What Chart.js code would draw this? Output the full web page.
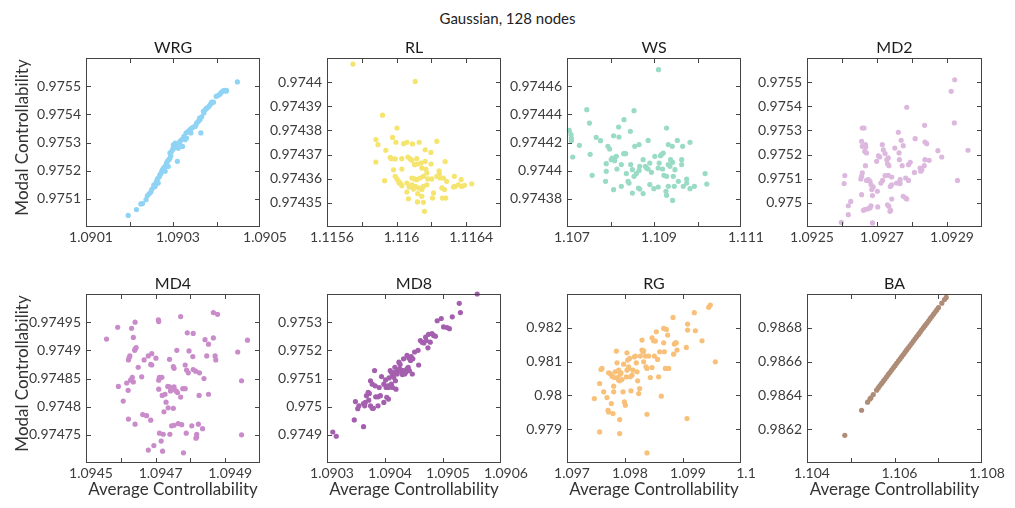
<!DOCTYPE html>
<html>
<head>
<meta charset="utf-8">
<script src="https://cdn.jsdelivr.net/npm/chart.js@4.4.1/dist/chart.umd.min.js"></script>
<style>
  html, body { margin: 0; padding: 0; background: #fff; }
  body { width: 1015px; height: 508px; position: relative; overflow: hidden; font-family: Lato, sans-serif; }
  canvas { position: absolute; }
  #suptitle { position: absolute; left: 0; width: 1015px; top: 9px; text-align: center; font: 15px Lato, sans-serif; color: #222; }
</style>
</head>
<body>
<div id="suptitle">Gaussian, 128 nodes</div>
<script>
// ---- data: average controllability (x) vs modal controllability (y) ----
const wrgX = [1.090197,1.090216,1.090226,1.090230,1.090238,1.090241,1.090245,1.090249,1.090251,1.090255,1.090256,1.090261,1.090262,1.090264,1.090266,1.090269,1.090270,1.090272,1.090274,1.090276,1.090278,1.090279,1.090282,1.090284,1.090285,1.090287,1.090289,1.090292,1.090293,1.090293,1.090295,1.090297,1.090299,1.090301,1.090301,1.090302,1.090305,1.090307,1.090308,1.090310,1.090312,1.090315,1.090316,1.090320,1.090322,1.090325,1.090328,1.090330,1.090331,1.090335,1.090339,1.090341,1.090343,1.090347,1.090351,1.090353,1.090354,1.090358,1.090361,1.090362,1.090364,1.090366,1.090370,1.090371,1.090374,1.090376,1.090377,1.090381,1.090384,1.090387,1.090389,1.090393,1.090399,1.090402,1.090407,1.090410,1.090414,1.090417,1.090422,1.090423,1.090448,1.090266,1.090259,1.090282,1.090289];
const wrgY = [0.975041,0.975062,0.975082,0.975083,0.975097,0.975111,0.975118,0.975124,0.975133,0.975141,0.975150,0.975154,0.975162,0.975170,0.975174,0.975180,0.975186,0.975189,0.975198,0.975204,0.975209,0.975206,0.975215,0.975221,0.975227,0.975233,0.975237,0.975241,0.975245,0.975263,0.975253,0.975269,0.975275,0.975286,0.975292,0.975280,0.975298,0.975292,0.975286,0.975233,0.975280,0.975298,0.975304,0.975310,0.975286,0.975322,0.975310,0.975334,0.975316,0.975340,0.975346,0.975334,0.975351,0.975355,0.975357,0.975363,0.975369,0.975375,0.975387,0.975381,0.975334,0.975391,0.975411,0.975405,0.975417,0.975419,0.975422,0.975426,0.975431,0.975438,0.975443,0.975443,0.975464,0.975466,0.975470,0.975476,0.975482,0.975485,0.975482,0.975485,0.975515,0.975156,0.975144,0.975198,0.975215];

const rlX = [1.115749,1.116107,1.115919,1.116002,1.115977,1.115881,1.115893,1.115996,1.116040,1.116059,1.116091,1.116130,1.116231,1.115938,1.115963,1.115969,1.115992,1.116030,1.116065,1.116078,1.116088,1.116116,1.116164,1.116197,1.115881,1.116141,1.116164,1.116198,1.116279,1.115982,1.116030,1.116103,1.116120,1.116145,1.116168,1.116244,1.116246,1.115931,1.115992,1.116002,1.116011,1.116021,1.116059,1.116088,1.116103,1.116116,1.116135,1.116154,1.116174,1.116179,1.116202,1.116231,1.116250,1.116269,1.116288,1.116332,1.116371,1.116355,1.116374,1.116390,1.116432,1.116327,1.116336,1.116260,1.116275,1.116283,1.116263,1.116212,1.116206,1.116174,1.116154,1.116145,1.116126,1.116107,1.116088,1.116072,1.116059,1.116068,1.116097,1.116122,1.116145,1.116120,1.116154,1.116160,1.116030,1.116015];
const rlY = [0.9744075,0.9744003,0.9743863,0.9743810,0.9743771,0.9743762,0.9743741,0.9743751,0.9743745,0.9743751,0.9743744,0.9743751,0.9743755,0.9743718,0.9743689,0.9743683,0.9743682,0.9743683,0.9743690,0.9743682,0.9743676,0.9743683,0.9743720,0.9743709,0.9743669,0.9743665,0.9743672,0.9743661,0.9743671,0.9743637,0.9743640,0.9743658,0.9743661,0.9743644,0.9743640,0.9743633,0.9743621,0.9743592,0.9743610,0.9743599,0.9743589,0.9743582,0.9743582,0.9743603,0.9743599,0.9743596,0.9743603,0.9743610,0.9743624,0.9743599,0.9743599,0.9743610,0.9743603,0.9743603,0.9743589,0.9743610,0.9743596,0.9743575,0.9743568,0.9743573,0.9743579,0.9743566,0.9743568,0.9743562,0.9743555,0.9743520,0.9743520,0.9743541,0.9743520,0.9743575,0.9743568,0.9743555,0.9743562,0.9743568,0.9743575,0.9743566,0.9743545,0.9743517,0.9743557,0.9743538,0.9743527,0.9743504,0.9743502,0.9743465,0.9743571,0.9743582];

const wsX = [1.109104,1.107455,1.108541,1.107516,1.107054,1.107092,1.107100,1.107100,1.107285,1.107671,1.107771,1.108071,1.108187,1.108310,1.108195,1.108457,1.108303,1.108349,1.108557,1.108657,1.108865,1.109289,1.109328,1.109420,1.109536,1.109659,1.109828,1.107131,1.107532,1.107940,1.107979,1.107902,1.108017,1.108040,1.108094,1.108133,1.108148,1.108249,1.108364,1.108464,1.108503,1.108541,1.108595,1.108657,1.108672,1.108750,1.108803,1.108827,1.108865,1.108904,1.108942,1.109019,1.109096,1.109119,1.109150,1.109173,1.109212,1.109197,1.109227,1.109289,1.109328,1.109366,1.109381,1.109428,1.109482,1.109443,1.109636,1.109636,1.109751,1.107578,1.107902,1.107886,1.108071,1.108249,1.108403,1.108426,1.108503,1.108642,1.108672,1.108750,1.108904,1.108996,1.109096,1.109274,1.109289,1.109328,1.109428,1.109466,1.109559,1.109674,1.109828,1.109929,1.109751,1.110175,1.110214];
const wsY = [0.9744717,0.9744433,0.9744426,0.9744338,0.9744286,0.9744256,0.9744232,0.9744213,0.9744180,0.9744237,0.9744213,0.9744248,0.9744310,0.9744362,0.9744239,0.9744279,0.9744121,0.9744121,0.9744173,0.9744185,0.9744215,0.9744303,0.9744185,0.9744173,0.9744215,0.9744173,0.9744201,0.9744097,0.9744116,0.9744173,0.9744154,0.9744050,0.9744078,0.9744090,0.9744071,0.9744102,0.9744012,0.9744043,0.9743979,0.9744043,0.9744007,0.9743960,0.9743979,0.9744002,0.9744031,0.9744078,0.9744031,0.9744019,0.9744012,0.9744054,0.9743988,0.9744102,0.9744019,0.9744054,0.9744106,0.9744114,0.9744125,0.9744012,0.9743967,0.9743960,0.9744043,0.9744031,0.9744078,0.9744059,0.9744007,0.9743960,0.9744043,0.9744078,0.9743912,0.9743967,0.9743995,0.9743924,0.9743865,0.9743889,0.9743924,0.9743912,0.9743841,0.9743877,0.9743870,0.9743837,0.9743901,0.9743872,0.9743884,0.9743853,0.9743825,0.9743889,0.9743789,0.9743889,0.9743924,0.9743889,0.9743872,0.9743889,0.9743941,0.9743979,0.9743905];

const md2X = [1.092922,1.092912,1.092785,1.092921,1.092836,1.092658,1.092663,1.092761,1.092656,1.092658,1.092667,1.092668,1.092665,1.092670,1.092715,1.092769,1.092775,1.092751,1.092809,1.092837,1.092842,1.092874,1.092885,1.092960,1.092718,1.092723,1.092704,1.092708,1.092699,1.092728,1.092732,1.092730,1.092734,1.092763,1.092764,1.092772,1.092790,1.092795,1.092837,1.092849,1.092835,1.092828,1.092825,1.092823,1.092807,1.092667,1.092658,1.092656,1.092654,1.092670,1.092675,1.092680,1.092683,1.092685,1.092687,1.092689,1.092701,1.092711,1.092716,1.092723,1.092732,1.092742,1.092738,1.092742,1.092756,1.092766,1.092782,1.092790,1.092766,1.092608,1.092606,1.092656,1.092625,1.092618,1.092618,1.092598,1.092687,1.092661,1.092665,1.092673,1.092680,1.092683,1.092702,1.092730,1.092734,1.092739,1.092737,1.092742,1.092775,1.092782,1.092785,1.092930];
const md2Y = [0.975510,0.975462,0.975396,0.975331,0.975321,0.975310,0.975310,0.975292,0.975255,0.975234,0.975241,0.975231,0.975213,0.975207,0.975241,0.975259,0.975237,0.975227,0.975266,0.975252,0.975245,0.975216,0.975190,0.975218,0.975220,0.975204,0.975195,0.975190,0.975172,0.975179,0.975186,0.975162,0.975154,0.975207,0.975179,0.975154,0.975158,0.975168,0.975179,0.975176,0.975154,0.975137,0.975131,0.975144,0.975126,0.975154,0.975124,0.975110,0.975099,0.975093,0.975096,0.975089,0.975075,0.975055,0.975030,0.975066,0.975048,0.975082,0.975093,0.975113,0.975114,0.975107,0.975068,0.975075,0.975082,0.975080,0.975103,0.975093,0.975096,0.975113,0.975080,0.975034,0.975006,0.974988,0.974951,0.974919,0.974917,0.974969,0.974972,0.974975,0.974979,0.974988,0.974983,0.974992,0.974986,0.974969,0.974965,0.975016,0.975027,0.975020,0.975016,0.975093];

const md4X = [1.094559,1.094591,1.094641,1.094631,1.094636,1.094641,1.094644,1.094640,1.094622,1.094624,1.094626,1.094650,1.094633,1.094660,1.094667,1.094679,1.094689,1.094689,1.094686,1.094701,1.094708,1.094709,1.094740,1.094761,1.094751,1.094753,1.094772,1.094791,1.094808,1.094796,1.094807,1.094785,1.094789,1.094794,1.094808,1.094815,1.094826,1.094839,1.094842,1.094852,1.094866,1.094847,1.094871,1.094873,1.094866,1.094878,1.094936,1.094964,1.094947,1.094593,1.094617,1.094628,1.094636,1.094621,1.094607,1.094709,1.094711,1.094718,1.094709,1.094719,1.094727,1.094735,1.094740,1.094743,1.094749,1.094753,1.094759,1.094763,1.094772,1.094778,1.094785,1.094730,1.094724,1.094736,1.094751,1.094622,1.094641,1.094663,1.094674,1.094686,1.094711,1.094722,1.094741,1.094746,1.094753,1.094765,1.094775,1.094788,1.094804,1.094818,1.094823,1.094835,1.094816,1.094818,1.094947,1.094679,1.094695,1.094716,1.094720,1.094780,1.094825,1.094852];
const md4Y = [0.974920,0.974941,0.974950,0.974939,0.974923,0.974902,0.974905,0.974900,0.974883,0.974887,0.974890,0.974870,0.974852,0.974853,0.974883,0.974890,0.974894,0.974874,0.974875,0.974886,0.974954,0.974951,0.974884,0.974900,0.974871,0.974868,0.974960,0.974931,0.974930,0.974899,0.974889,0.974874,0.974865,0.974860,0.974866,0.974863,0.974860,0.974850,0.974919,0.974911,0.974922,0.974890,0.974890,0.974883,0.974967,0.974964,0.974897,0.974918,0.974846,0.974836,0.974842,0.974847,0.974844,0.974829,0.974810,0.974847,0.974852,0.974852,0.974831,0.974820,0.974822,0.974836,0.974835,0.974828,0.974831,0.974835,0.974828,0.974825,0.974817,0.974832,0.974832,0.974808,0.974791,0.974798,0.974797,0.974778,0.974769,0.974786,0.974784,0.974776,0.974753,0.974751,0.974751,0.974766,0.974767,0.974770,0.974768,0.974753,0.974766,0.974751,0.974769,0.974761,0.974744,0.974746,0.974750,0.974723,0.974731,0.974739,0.974721,0.974718,0.974820,0.974822];

const md8X = [1.090310,1.090316,1.090347,1.090363,1.090353,1.090349,1.090355,1.090363,1.090365,1.090366,1.090375,1.090378,1.090380,1.090372,1.090368,1.090371,1.090373,1.090375,1.090378,1.090382,1.090383,1.090384,1.090388,1.090390,1.090392,1.090394,1.090398,1.090401,1.090402,1.090403,1.090405,1.090406,1.090407,1.090409,1.090411,1.090411,1.090413,1.090415,1.090417,1.090417,1.090418,1.090421,1.090422,1.090425,1.090426,1.090428,1.090429,1.090430,1.090432,1.090434,1.090436,1.090438,1.090440,1.090442,1.090444,1.090445,1.090448,1.090451,1.090457,1.090458,1.090461,1.090464,1.090467,1.090470,1.090471,1.090474,1.090475,1.090478,1.090481,1.090484,1.090487,1.090490,1.090497,1.090501,1.090507,1.090511,1.090516,1.090528,1.090530,1.090559,1.090406,1.090398,1.090388,1.090424,1.090432,1.090438,1.090441,1.090447,1.090413,1.090419];
const md8Y = [0.974910,0.974895,0.974953,0.974929,0.974993,0.975018,0.975003,0.975011,0.975003,0.975015,0.975003,0.974994,0.974994,0.975023,0.975039,0.975051,0.975047,0.975092,0.975080,0.975128,0.975074,0.975035,0.975035,0.975068,0.975039,0.975107,0.975080,0.975095,0.975068,0.975033,0.975074,0.975068,0.975102,0.975128,0.975080,0.975122,0.975110,0.975104,0.975140,0.975122,0.975092,0.975116,0.975128,0.975134,0.975150,0.975130,0.975122,0.975114,0.975128,0.975116,0.975122,0.975134,0.975140,0.975128,0.975164,0.975178,0.975170,0.975194,0.975200,0.975148,0.975235,0.975229,0.975226,0.975247,0.975235,0.975209,0.975257,0.975229,0.975259,0.975253,0.975250,0.975305,0.975313,0.975283,0.975281,0.975277,0.975319,0.975367,0.975334,0.975400,0.975027,0.975015,0.975003,0.975158,0.975170,0.975182,0.975173,0.975116,0.975068,0.975062];

const rgX = [1.097471,1.097563,1.097563,1.097586,1.097603,1.097632,1.097690,1.097707,1.097718,1.097718,1.097747,1.097764,1.097776,1.097793,1.097805,1.097805,1.097816,1.097833,1.097851,1.097862,1.097874,1.097891,1.097891,1.097908,1.097908,1.097908,1.097920,1.097931,1.097948,1.097966,1.097977,1.097989,1.098006,1.098023,1.098034,1.098034,1.098046,1.098063,1.098063,1.098080,1.098092,1.098103,1.098121,1.098138,1.098161,1.098178,1.098195,1.098207,1.098218,1.098236,1.098253,1.098264,1.098293,1.098293,1.098310,1.098322,1.098322,1.098351,1.098362,1.098379,1.098379,1.098379,1.098408,1.098437,1.098466,1.098466,1.098494,1.098506,1.098523,1.098540,1.098563,1.098580,1.098598,1.098626,1.098667,1.098667,1.098678,1.098695,1.098713,1.098736,1.098753,1.098828,1.098839,1.098851,1.098868,1.098885,1.098897,1.099057,1.099069,1.099080,1.099080,1.099195,1.099213,1.099328,1.099443,1.099471,1.099557];
const rgY = [0.979907,0.978919,0.980352,0.980767,0.980797,0.980105,0.979937,0.979561,0.979512,0.980668,0.980648,0.979759,0.980569,0.979463,0.980105,0.980273,0.980530,0.980698,0.981310,0.980965,0.980530,0.980451,0.980747,0.980431,0.979285,0.978870,0.980629,0.980668,0.980471,0.980105,0.980925,0.979808,0.979710,0.980550,0.980747,0.981261,0.981044,0.980797,0.980846,0.981093,0.980550,0.980135,0.980599,0.980747,0.981142,0.981162,0.980965,0.980698,0.980431,0.980055,0.980204,0.981162,0.981636,0.981340,0.981291,0.981320,0.980994,0.981162,0.980846,0.978297,0.979443,0.980797,0.981162,0.980530,0.980826,0.981706,0.981617,0.981162,0.981607,0.981883,0.981063,0.980550,0.981291,0.979976,0.981557,0.981982,0.981291,0.980797,0.981953,0.981785,0.980797,0.982308,0.981221,0.981518,0.981557,0.981557,0.981340,0.981419,0.979314,0.982111,0.981933,0.982447,0.981913,0.981617,0.982605,0.982674,0.980994];

const baX = [1.104864,1.105247,1.105384,1.105438,1.105461,1.105514,1.105591,1.105629,1.105667,1.105706,1.105744,1.105782,1.105820,1.105858,1.105897,1.105935,1.105973,1.106011,1.106050,1.106088,1.106126,1.106164,1.106203,1.106241,1.106279,1.106317,1.106356,1.106394,1.106432,1.106470,1.106508,1.106547,1.106585,1.106623,1.106661,1.106700,1.106738,1.106776,1.106814,1.106853,1.106891,1.106929,1.106967,1.107006,1.107082,1.107143,1.107182];
const baY = [0.986164,0.986312,0.986360,0.986378,0.986386,0.986405,0.986431,0.986444,0.986458,0.986471,0.986484,0.986497,0.986510,0.986524,0.986537,0.986550,0.986563,0.986576,0.986590,0.986603,0.986616,0.986629,0.986642,0.986656,0.986669,0.986682,0.986695,0.986708,0.986722,0.986735,0.986748,0.986761,0.986774,0.986788,0.986801,0.986814,0.986827,0.986840,0.986854,0.986867,0.986880,0.986893,0.986906,0.986920,0.986946,0.986967,0.986980];

// ---- axis ticks and labels ----
const wrgXTicks = [1.0901, 1.0902, 1.0903, 1.0904, 1.0905];
const wrgXLabels = ['1.0901', '', '1.0903', '', '1.0905'];
const wrgYRange = [0.975, 0.9756];
const wrgYTicks = [0.9751, 0.9752, 0.9753, 0.9754, 0.9755];
const wrgYLabels = ['0.9751', '0.9752', '0.9753', '0.9754', '0.9755'];

const rlXTicks = [1.1156, 1.1158, 1.116, 1.1162, 1.1164, 1.1166];
const rlXLabels = ['1.1156', '', '1.116', '', '1.1164', ''];
const rlYRange = [0.97434, 0.97441];
const rlYTicks = [0.97435, 0.97436, 0.97437, 0.97438, 0.97439, 0.9744];
const rlYLabels = ['0.97435', '0.97436', '0.97437', '0.97438', '0.97439', '0.9744'];

const wsXTicks = [1.107, 1.108, 1.109, 1.110, 1.111];
const wsXLabels = ['1.107', '', '1.109', '', '1.111'];
const wsYRange = [0.97436, 0.97448];
const wsYTicks = [0.97438, 0.9744, 0.97442, 0.97444, 0.97446];
const wsYLabels = ['0.97438', '0.9744', '0.97442', '0.97444', '0.97446'];

const md2XTicks = [1.0925, 1.0926, 1.0927, 1.0928, 1.0929, 1.093];
const md2XLabels = ['1.0925', '', '1.0927', '', '1.0929', ''];
const md2YRange = [0.9749, 0.9756];
const md2YTicks = [0.975, 0.9751, 0.9752, 0.9753, 0.9754, 0.9755];
const md2YLabels = ['0.975', '0.9751', '0.9752', '0.9753', '0.9754', '0.9755'];

const md4XTicks = [1.0945, 1.0946, 1.0947, 1.0948, 1.0949, 1.095];
const md4XLabels = ['1.0945', '', '1.0947', '', '1.0949', ''];
const md4YRange = [0.9747, 0.975];
const md4YTicks = [0.97475, 0.9748, 0.97485, 0.9749, 0.97495];
const md4YLabels = ['0.97475', '0.9748', '0.97485', '0.9749', '0.97495'];

const md8XTicks = [1.0903, 1.0904, 1.0905, 1.0906];
const md8XLabels = ['1.0903', '1.0904', '1.0905', '1.0906'];
const md8YRange = [0.9748, 0.9754];
const md8YTicks = [0.9749, 0.975, 0.9751, 0.9752, 0.9753];
const md8YLabels = ['0.9749', '0.975', '0.9751', '0.9752', '0.9753'];

const rgXTicks = [1.097, 1.098, 1.099, 1.1];
const rgXLabels = ['1.097', '1.098', '1.099', '1.1'];
const rgYRange = [0.978, 0.983];
const rgYTicks = [0.979, 0.98, 0.981, 0.982];
const rgYLabels = ['0.979', '0.98', '0.981', '0.982'];

const baXTicks = [1.104, 1.105, 1.106, 1.107, 1.108];
const baXLabels = ['1.104', '', '1.106', '', '1.108'];
const baYRange = [0.986, 0.987];
const baYTicks = [0.9862, 0.9864, 0.9866, 0.9868];
const baYLabels = ['0.9862', '0.9864', '0.9866', '0.9868'];

// ---- panel layout (plot box in page pixels) ----
const colLeft = [86, 327, 567, 807];
const rowTop = [58, 294];
const boxW = 174, boxH = 169;
const padL = 86, padT = 45, padR = 30, padB = 45;

const panels = [
  { name: 'WRG', xs: wrgX, ys: wrgY, color: '#8fd3f5', xTicks: wrgXTicks, xLabels: wrgXLabels, yRange: wrgYRange, yTicks: wrgYTicks, yLabels: wrgYLabels, col: 0, row: 0 },
  { name: 'RL',  xs: rlX,  ys: rlY,  color: '#f5e46e', xTicks: rlXTicks,  xLabels: rlXLabels,  yRange: rlYRange,  yTicks: rlYTicks,  yLabels: rlYLabels,  col: 1, row: 0 },
  { name: 'WS',  xs: wsX,  ys: wsY,  color: '#99dbc4', xTicks: wsXTicks,  xLabels: wsXLabels,  yRange: wsYRange,  yTicks: wsYTicks,  yLabels: wsYLabels,  col: 2, row: 0 },
  { name: 'MD2', xs: md2X, ys: md2Y, color: '#ddb8de', xTicks: md2XTicks, xLabels: md2XLabels, yRange: md2YRange, yTicks: md2YTicks, yLabels: md2YLabels, col: 3, row: 0 },
  { name: 'MD4', xs: md4X, ys: md4Y, color: '#c98bc9', xTicks: md4XTicks, xLabels: md4XLabels, yRange: md4YRange, yTicks: md4YTicks, yLabels: md4YLabels, col: 0, row: 1 },
  { name: 'MD8', xs: md8X, ys: md8Y, color: '#a45fae', xTicks: md8XTicks, xLabels: md8XLabels, yRange: md8YRange, yTicks: md8YTicks, yLabels: md8YLabels, col: 1, row: 1 },
  { name: 'RG',  xs: rgX,  ys: rgY,  color: '#f8c078', xTicks: rgXTicks,  xLabels: rgXLabels,  yRange: rgYRange,  yTicks: rgYTicks,  yLabels: rgYLabels,  col: 2, row: 1 },
  { name: 'BA',  xs: baX,  ys: baY,  color: '#ae8c77', xTicks: baXTicks,  xLabels: baXLabels,  yRange: baYRange,  yTicks: baYTicks,  yLabels: baYLabels,  col: 3, row: 1 }
];

const tickFont = { family: 'Lato', size: 14 };
const textColor = '#3c3c3c';

// box, inward tick marks on all four sides, and the panel / axis titles
function framePlugin(p) {
  return {
    id: 'frame',
    afterDraw(chart) {
      const { ctx, chartArea: a, scales } = chart;
      ctx.save();
      ctx.strokeStyle = '#444';
      ctx.lineWidth = 1;
      ctx.strokeRect(a.left + 0.5, a.top + 0.5, a.right - a.left - 1, a.bottom - a.top - 1);
      ctx.beginPath();
      p.xTicks.slice(1, -1).forEach(v => {
        const px = Math.round(scales.x.getPixelForValue(v)) + 0.5;
        ctx.moveTo(px, a.bottom); ctx.lineTo(px, a.bottom - 5);
        ctx.moveTo(px, a.top); ctx.lineTo(px, a.top + 5);
      });
      p.yTicks.forEach(v => {
        const py = Math.round(scales.y.getPixelForValue(v)) + 0.5;
        ctx.moveTo(a.left, py); ctx.lineTo(a.left + 5, py);
        ctx.moveTo(a.right, py); ctx.lineTo(a.right - 5, py);
      });
      ctx.stroke();

      const cx = (a.left + a.right) / 2;
      ctx.fillStyle = '#1c1c1c';
      ctx.textAlign = 'center';
      ctx.textBaseline = 'alphabetic';
      ctx.font = '16px Lato';
      ctx.fillText(p.name, cx, a.top - 5);

      ctx.fillStyle = '#333';
      ctx.font = '17px Lato';
      if (p.row === 1) {
        ctx.fillText('Average Controllability', cx, a.bottom + 32);
      }
      if (p.col === 0) {
        ctx.translate(a.left - 58, (a.top + a.bottom) / 2 - 5);
        ctx.rotate(-Math.PI / 2);
        ctx.fillText('Modal Controllability', 0, 0);
      }
      ctx.restore();
    }
  };
}

panels.forEach(p => {
  const w = p.col === 3 ? boxW + 1 : boxW;
  const canvas = document.createElement('canvas');
  canvas.width = w + padL + padR;
  canvas.height = boxH + padT + padB;
  canvas.style.left = (colLeft[p.col] - padL) + 'px';
  canvas.style.top = (rowTop[p.row] - padT) + 'px';
  document.body.appendChild(canvas);

  new Chart(canvas, {
    type: 'scatter',
    data: {
      datasets: [{
        data: p.xs.map((x, i) => ({ x: x, y: p.ys[i] })),
        backgroundColor: p.color,
        borderWidth: 0,
        pointRadius: 2.6,
        pointHoverRadius: 2.6,
        clip: false
      }]
    },
    options: {
      responsive: false,
      animation: false,
      devicePixelRatio: 1,
      events: [],
      layout: { padding: { left: 0, top: padT, right: padR, bottom: 0 } },
      plugins: { legend: { display: false }, tooltip: { enabled: false }, title: { display: false } },
      scales: {
        x: {
          type: 'linear',
          position: 'bottom',
          min: p.xTicks[0],
          max: p.xTicks[p.xTicks.length - 1],
          afterBuildTicks: s => { s.ticks = p.xTicks.map(v => ({ value: v })); },
          afterFit: s => { s.height = padB; },
          grid: { display: false, drawTicks: false },
          border: { display: false },
          ticks: {
            autoSkip: false, maxRotation: 0, padding: 2, labelOffset: 5,
            color: textColor, font: tickFont,
            callback: (v, i) => p.xLabels[i]
          }
        },
        y: {
          type: 'linear',
          position: 'left',
          min: p.yRange[0],
          max: p.yRange[1],
          afterBuildTicks: s => { s.ticks = p.yTicks.map(v => ({ value: v })); },
          afterFit: s => { s.width = padL; },
          grid: { display: false, drawTicks: false },
          border: { display: false },
          ticks: {
            autoSkip: false, padding: 5,
            color: textColor, font: tickFont,
            callback: (v, i) => p.yLabels[i]
          }
        }
      }
    },
    plugins: [framePlugin(p)]
  });
});
</script>
</body>
</html>
